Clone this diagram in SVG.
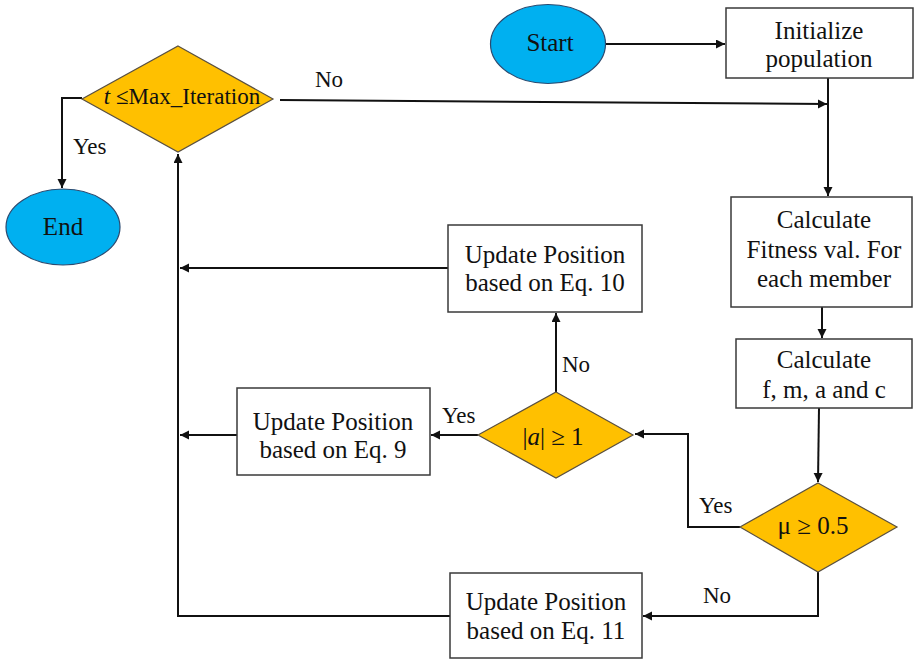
<svg xmlns="http://www.w3.org/2000/svg" width="915" height="662" viewBox="0 0 915 662">
  <style>
    .box { fill: #ffffff; stroke: #3a3a3a; stroke-width: 1.5; }
    .dec { fill: #FFC000; stroke: #5a5040; stroke-width: 1.2; }
    .term { fill: #00B0F0; stroke: #2a4a70; stroke-width: 1.2; }
    .txt { font-family: "Liberation Serif", "DejaVu Serif", serif; font-size: 25px; fill: #111111; text-anchor: middle; }
    .txt.small { font-size: 23px; }
    .lbl { font-family: "Liberation Serif", "DejaVu Serif", serif; font-size: 23px; fill: #111111; }
    .conn { fill: none; stroke: #111111; stroke-width: 2; marker-end: url(#arrow); }
  </style>
  <defs>
    <marker id="arrow" markerUnits="userSpaceOnUse" markerWidth="10" markerHeight="10" refX="9" refY="4.5" orient="auto">
      <path d="M0,0 L9,4.5 L0,9 z" fill="#111111"/>
    </marker>
  </defs>
  <rect width="915" height="662" fill="#ffffff"/>

  <!-- connectors and their labels -->
  <g id="connectors">
    <path class="conn" d="M605,44 H725"/>
    <path class="conn" d="M828,78 V196"/>
    <path class="conn" d="M280,100 L827,104"/>
    <path class="conn" d="M822,307 V338"/>
    <path class="conn" d="M819,408 L818,482"/>
    <path class="conn" d="M740,527 H688 V434 H635"/>
    <path class="conn" d="M818,572 V616 H643"/>
    <path class="conn" d="M478,435 H431"/>
    <path class="conn" d="M556,392 V313"/>
    <path class="conn" d="M448,268 H180"/>
    <path class="conn" d="M237,435 H180"/>
    <path class="conn" d="M450,616 H178 V154"/>
    <path class="conn" d="M82,98 H62 V188"/>
    <text class="lbl" x="315" y="87">No</text>
    <text class="lbl" x="73" y="154">Yes</text>
    <text class="lbl" x="562" y="372">No</text>
    <text class="lbl" x="442" y="423">Yes</text>
    <text class="lbl" x="699" y="513">Yes</text>
    <text class="lbl" x="703" y="603">No</text>
  </g>

  <g id="start">
    <ellipse class="term" cx="548" cy="44" rx="57.5" ry="39.5"/>
    <text class="txt" x="550" y="51">Start</text>
  </g>

  <g id="init">
    <rect class="box" x="726" y="8" width="187" height="70"/>
    <text class="txt" x="819" y="39">Initialize</text>
    <text class="txt" x="819" y="67">population</text>
  </g>

  <g id="fitness">
    <rect class="box" x="731" y="197" width="181" height="110"/>
    <text class="txt" x="824" y="228">Calculate</text>
    <text class="txt" x="824" y="258">Fitness val. For</text>
    <text class="txt" x="824" y="287">each member</text>
  </g>

  <g id="calc-fmac">
    <rect class="box" x="736" y="339" width="176" height="69"/>
    <text class="txt" x="824" y="368">Calculate</text>
    <text class="txt" x="824" y="398">f, m, a and c</text>
  </g>

  <g id="mu-check">
    <polygon class="dec" points="818,483 897,527 818,572 740,527"/>
    <text class="txt" x="813" y="534">μ ≥ 0.5</text>
  </g>

  <g id="a-check">
    <polygon class="dec" points="556,392 633,435 556,478 478,435"/>
    <text class="txt" x="553" y="445">|<tspan font-style="italic">a</tspan>| ≥ 1</text>
  </g>

  <g id="eq10">
    <rect class="box" x="448" y="225" width="194" height="87"/>
    <text class="txt" x="545" y="263">Update Position</text>
    <text class="txt" x="545" y="291">based on Eq. 10</text>
  </g>

  <g id="eq9">
    <rect class="box" x="237" y="388" width="193" height="87"/>
    <text class="txt" x="333" y="430">Update Position</text>
    <text class="txt" x="333" y="458">based on Eq. 9</text>
  </g>

  <g id="eq11">
    <rect class="box" x="450" y="573" width="192" height="85"/>
    <text class="txt" x="546" y="610">Update Position</text>
    <text class="txt" x="546" y="639">based on Eq. 11</text>
  </g>

  <g id="iter-check">
    <polygon class="dec" points="178,46 273,99 178,152 82,99"/>
    <text class="txt small" x="182" y="104"><tspan font-style="italic">t</tspan> ≤Max_Iteration</text>
  </g>

  <g id="end">
    <ellipse class="term" cx="63" cy="227" rx="57" ry="38"/>
    <text class="txt" x="63" y="235">End</text>
  </g>
</svg>
